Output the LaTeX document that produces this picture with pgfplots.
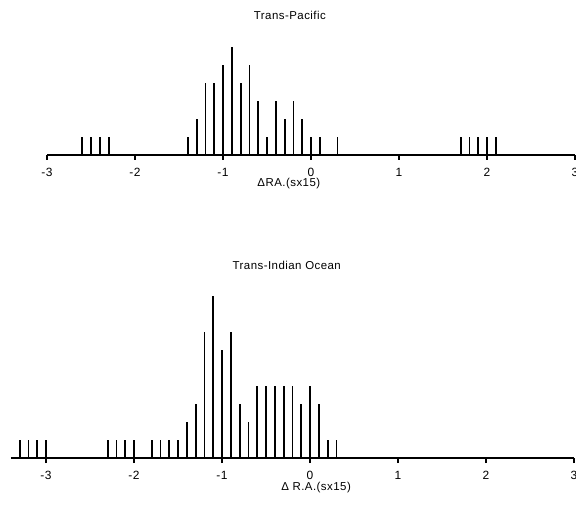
\documentclass[border=0pt]{standalone}
\usepackage{fontspec}
\setmainfont{Liberation Sans}[LetterSpace=4]
\usepackage{pgfplots}
\pgfplotsset{compat=1.18}

\pgfplotsset{
  every axis title shift=0pt,
  raplot/.style={
    x=88bp, y=18bp,
    anchor=south west,
    enlargelimits=false,
    axis x line*=bottom,
    axis y line=none,
    ymin=0, ytick=\empty,
    xtick={-3,-2,-1,0,1,2,3},
    xticklabels={-3,-2,-1,0,1,2,3},
    tick align=outside,
    major tick length=5bp,
    every tick/.style={black, line width=1.1pt},
    axis line style={line width=1.2pt},
    xticklabel style={anchor=center, yshift=-12.5bp, font=\fontsize{12}{13}\selectfont},
    title style={anchor=center, font=\fontsize{11.5}{13}\selectfont},
    xlabel style={anchor=center, font=\fontsize{11.5}{13}\selectfont},
    clip=false,
  },
  spikes/.style={ycomb, black, line width=1.8bp, mark=none},
}

\begin{document}
\begin{tikzpicture}
  % Trans-Pacific
  \begin{axis}[raplot, at={(47bp,353bp)},
    xmin=-3, xmax=3, ymax=8,
    title={Trans-Pacific},
    title style={at={(axis description cs:0.46,0.972)}},
    xlabel={ΔRA.(sx15)},
    xlabel style={at={(axis description cs:0.458,-0.2)}}]
    \addplot[spikes] coordinates {
      (-2.6,1) (-2.5,1) (-2.4,1) (-2.3,1)
      (-1.4,1) (-1.3,2) (-1.2,4) (-1.1,4) (-1.0,5) (-0.9,6) (-0.8,4)
      (-0.7,5) (-0.6,3) (-0.5,1) (-0.4,3) (-0.3,2) (-0.2,3) (-0.1,2)
      (0.0,1) (0.1,1) (0.3,1)
      (1.7,1) (1.8,1) (1.9,1) (2.0,1) (2.1,1)
    };
  \end{axis}
  % Trans-Indian Ocean
  \begin{axis}[raplot, at={(10.8bp,50bp)},
    xmin=-3.4, xmax=3, ymax=9.5,
    title={Trans-Indian Ocean},
    title style={at={(axis description cs:0.49,1.129)}},
    xlabel={Δ R.A.(sx15)},
    xlabel style={at={(axis description cs:0.542,-0.17)}}]
    \addplot[spikes] coordinates {
      (-3.3,1) (-3.2,1) (-3.1,1) (-3.0,1)
      (-2.3,1) (-2.2,1) (-2.1,1) (-2.0,1)
      (-1.8,1) (-1.7,1) (-1.6,1) (-1.5,1)
      (-1.4,2) (-1.3,3) (-1.2,7) (-1.1,9) (-1.0,6) (-0.9,7) (-0.8,3)
      (-0.7,2) (-0.6,4) (-0.5,4) (-0.4,4) (-0.3,4) (-0.2,4) (-0.1,3)
      (0.0,4) (0.1,3) (0.2,1) (0.3,1)
    };
  \end{axis}
  \pgfresetboundingbox
  \path[use as bounding box] (0,0) rectangle (576bp,508bp);
\end{tikzpicture}
\end{document}
